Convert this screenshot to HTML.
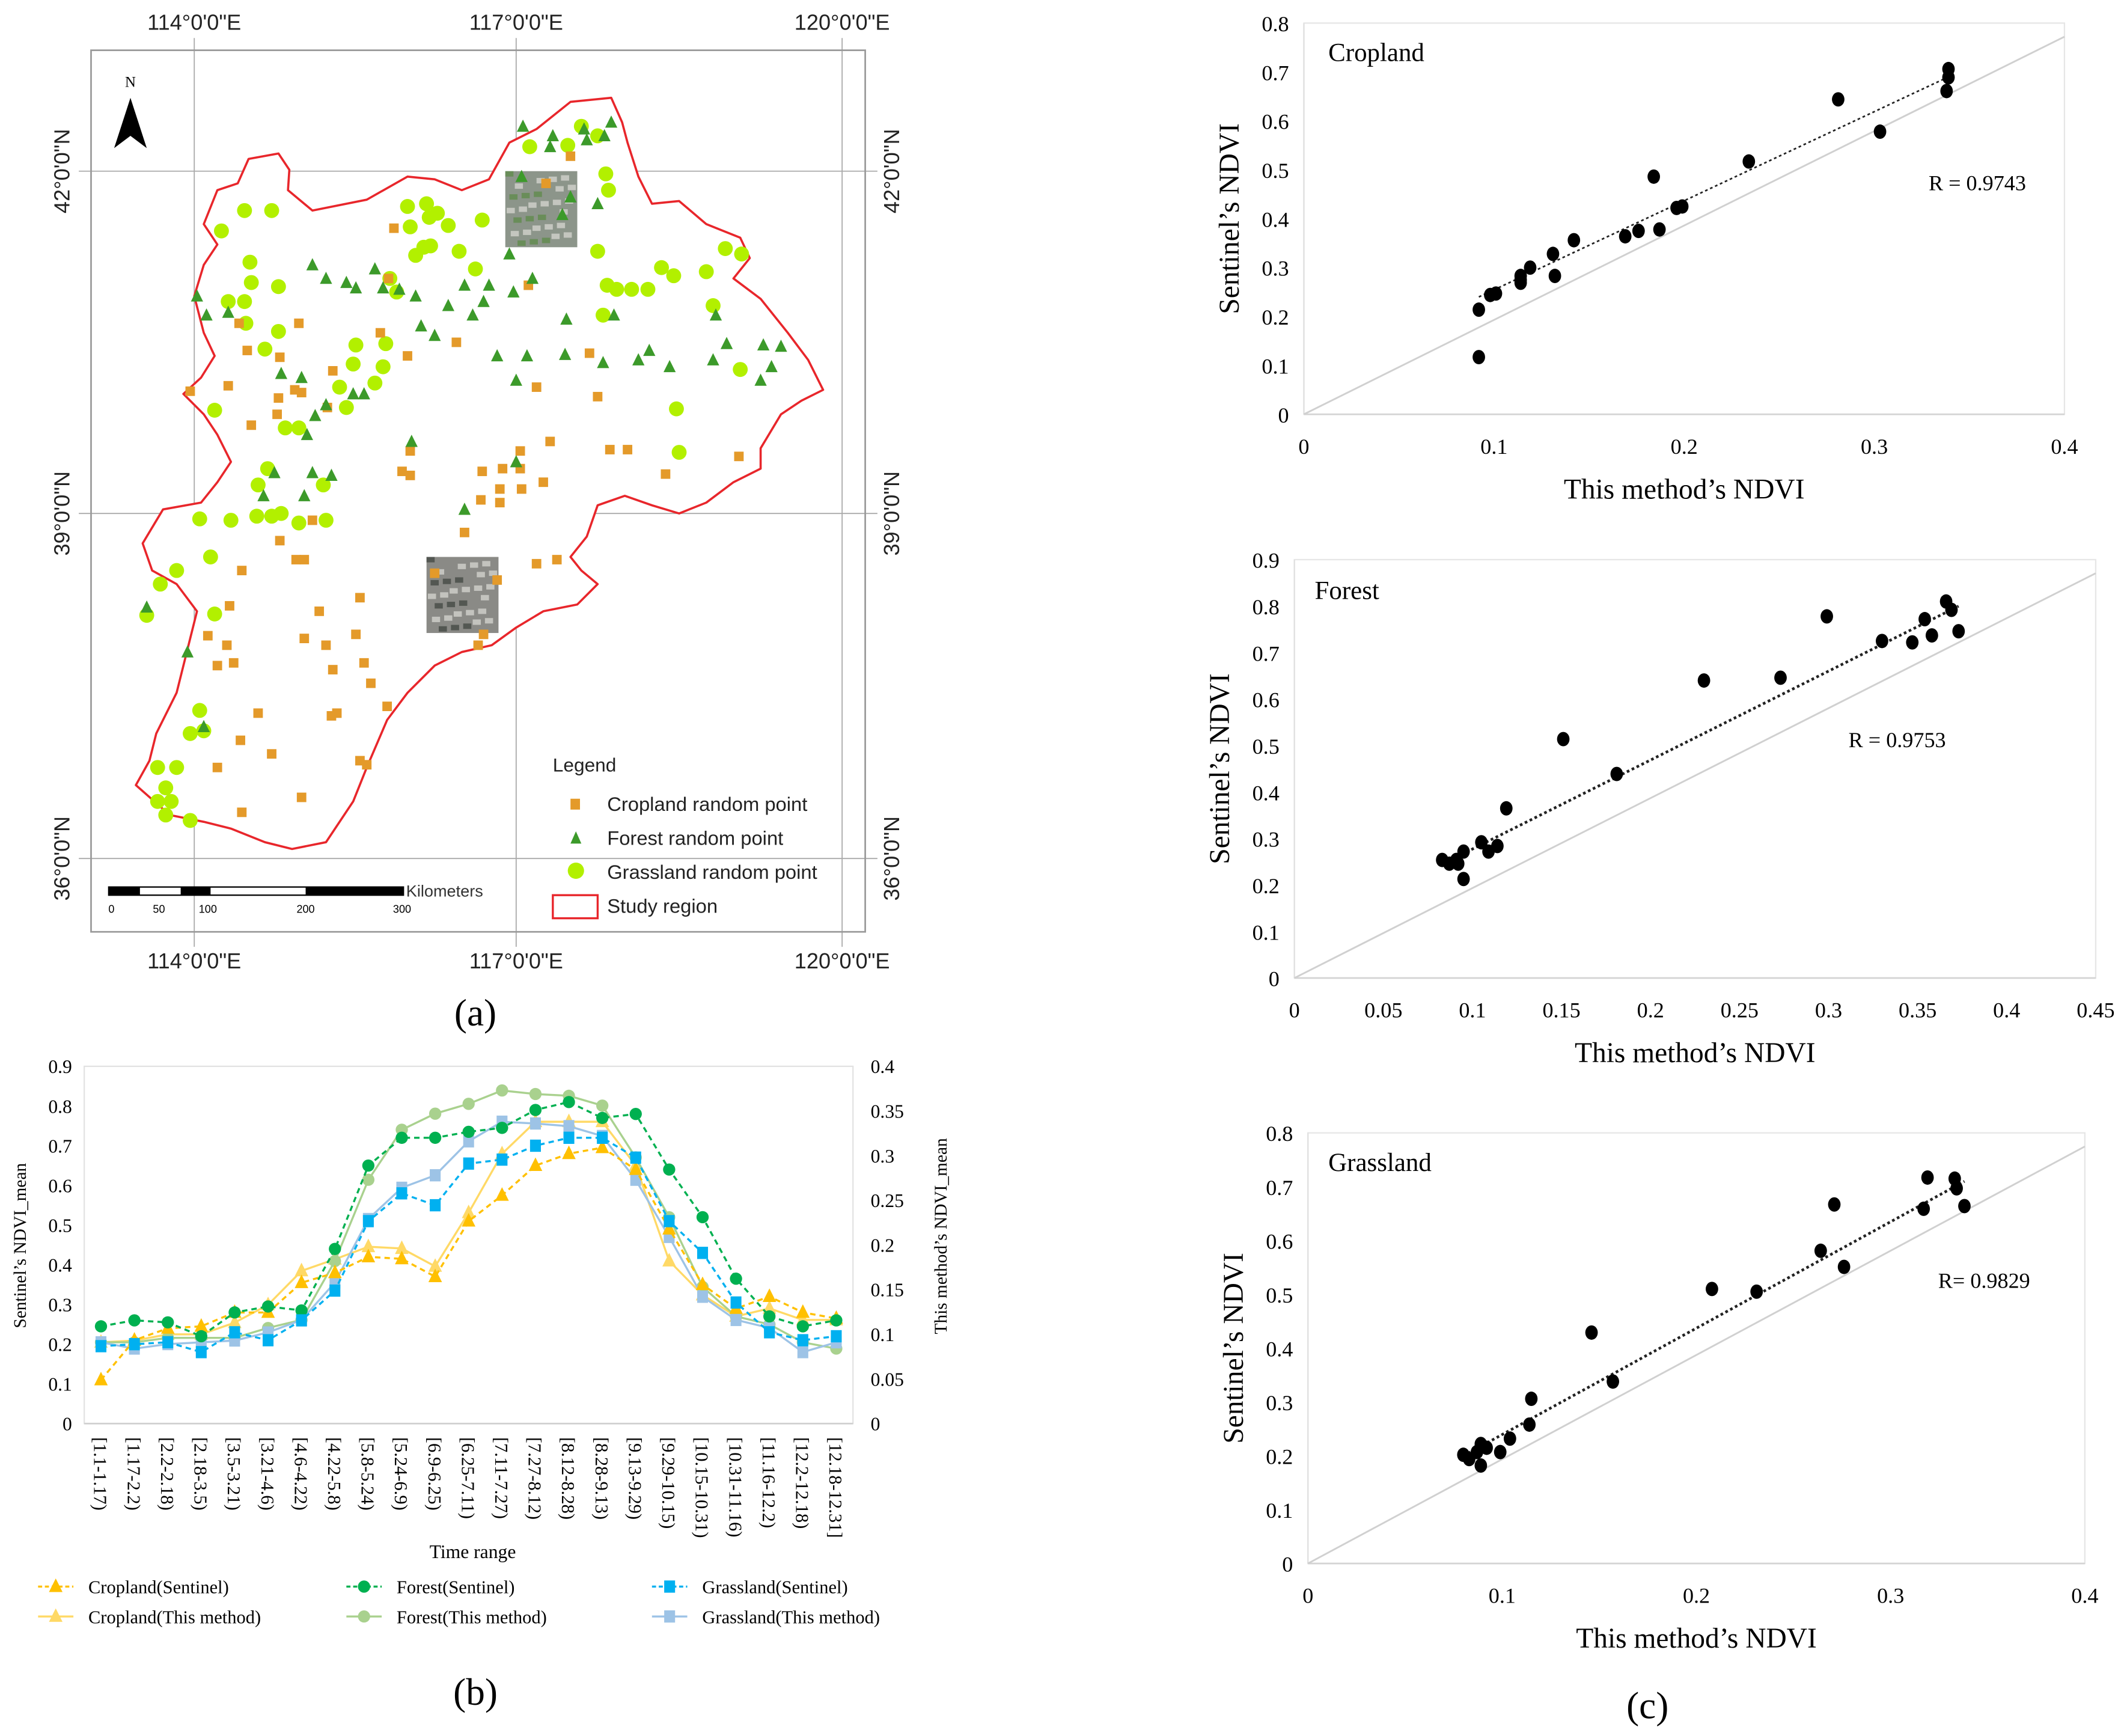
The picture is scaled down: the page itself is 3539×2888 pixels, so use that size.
<!DOCTYPE html>
<html><head><meta charset="utf-8">
<style>
html,body{margin:0;padding:0;background:#fff;}
svg{display:block;}
.serif{font-family:"Liberation Serif",serif;}
.sans{font-family:"Liberation Sans",sans-serif;}
</style></head>
<body>
<svg id="fig" width="3539" height="2888" viewBox="0 0 1566 1278" xmlns="http://www.w3.org/2000/svg">
<g id="mapG"></g>
<g id="lineG"></g>
<g id="scG"></g>
<text x="350" y="755" text-anchor="middle" class="serif" font-size="28">(a)</text>
<text x="350" y="1255" text-anchor="middle" class="serif" font-size="28">(b)</text>
<text x="1213" y="1265" text-anchor="middle" class="serif" font-size="28">(c)</text>
</svg>
<script>
// ===== Line chart data =====
const timeCategories = ["[1.1-1.17)","[1.17-2.2)","[2.2-2.18)","[2.18-3.5)","[3.5-3.21)","[3.21-4.6)","[4.6-4.22)","[4.22-5.8)","[5.8-5.24)","[5.24-6.9)","[6.9-6.25)","[6.25-7.11)","[7.11-7.27)","[7.27-8.12)","[8.12-8.28)","[8.28-9.13)","[9.13-9.29)","[9.29-10.15)","[10.15-10.31)","[10.31-11.16)","[11.16-12.2)","[12.2-12.18)","[12.18-12.31]"];
const croplandSentinel = [0.11,0.21,0.24,0.245,0.28,0.28,0.355,0.38,0.42,0.415,0.37,0.51,0.575,0.65,0.68,0.695,0.64,0.49,0.35,0.29,0.32,0.28,0.265];
const forestSentinel = [0.245,0.26,0.255,0.22,0.28,0.295,0.285,0.44,0.65,0.72,0.72,0.735,0.745,0.79,0.81,0.77,0.78,0.64,0.52,0.365,0.27,0.245,0.26];
const grasslandSentinel = [0.195,0.2,0.205,0.18,0.23,0.21,0.26,0.335,0.51,0.58,0.55,0.655,0.665,0.7,0.72,0.72,0.67,0.51,0.43,0.305,0.23,0.21,0.22];
const croplandThis = [0.091,0.093,0.1,0.1,0.113,0.133,0.171,0.184,0.198,0.196,0.176,0.236,0.302,0.338,0.338,0.338,0.289,0.182,0.144,0.12,0.129,0.116,0.116];
const forestThis = [0.091,0.091,0.096,0.096,0.096,0.107,0.116,0.182,0.273,0.329,0.347,0.358,0.373,0.369,0.367,0.356,0.298,0.231,0.153,0.12,0.111,0.091,0.084];
const grasslandThis = [0.091,0.084,0.089,0.091,0.093,0.102,0.116,0.158,0.229,0.264,0.278,0.316,0.338,0.336,0.333,0.322,0.273,0.209,0.142,0.116,0.107,0.08,0.091];
const leftTicks = [0,0.1,0.2,0.3,0.4,0.5,0.6,0.7,0.8,0.9];
const rightTicks = [0,0.05,0.1,0.15,0.2,0.25,0.3,0.35,0.4];

// ===== Scatter data =====
const cropX = [0.092,0.092,0.098,0.101,0.114,0.114,0.114,0.119,0.131,0.132,0.142,0.169,0.176,0.187,0.184,0.196,0.199,0.234,0.281,0.303,0.339,0.339,0.338];
const cropY = [0.214,0.117,0.244,0.247,0.275,0.269,0.283,0.3,0.328,0.283,0.356,0.364,0.375,0.378,0.486,0.422,0.425,0.517,0.644,0.578,0.689,0.706,0.661];
const forestX = [0.083,0.087,0.091,0.095,0.095,0.092,0.105,0.109,0.114,0.119,0.151,0.181,0.23,0.273,0.299,0.33,0.347,0.354,0.358,0.366,0.369,0.373];
const forestY = [0.254,0.246,0.254,0.272,0.213,0.246,0.292,0.272,0.284,0.365,0.514,0.439,0.64,0.646,0.778,0.725,0.722,0.772,0.737,0.81,0.792,0.746];
const grassX = [0.08,0.083,0.087,0.089,0.089,0.092,0.099,0.104,0.114,0.115,0.146,0.157,0.208,0.231,0.264,0.271,0.276,0.317,0.319,0.333,0.334,0.338];
const grassY = [0.202,0.194,0.207,0.222,0.182,0.215,0.207,0.232,0.258,0.306,0.429,0.338,0.51,0.505,0.581,0.667,0.551,0.659,0.717,0.715,0.697,0.664];
const cropTicksX = [0,0.1,0.2,0.3,0.4];
const cropTicksY = [0,0.1,0.2,0.3,0.4,0.5,0.6,0.7,0.8];
const forestTicksX = [0,0.05,0.1,0.15,0.2,0.25,0.3,0.35,0.4,0.45];
const forestTicksY = [0,0.1,0.2,0.3,0.4,0.5,0.6,0.7,0.8,0.9];
const grassTicksX = [0,0.1,0.2,0.3,0.4];
const grassTicksY = [0,0.1,0.2,0.3,0.4,0.5,0.6,0.7,0.8];
const rValues = ["R = 0.9743","R = 0.9753","R= 0.9829"];

const NS="http://www.w3.org/2000/svg";
function mk(parent,tag,attrs,text){const e=document.createElementNS(NS,tag);for(const k in attrs)e.setAttribute(k,attrs[k]);if(text!==undefined)e.textContent=text;parent.appendChild(e);return e;}

// ===== Map =====
(function(){
const g=document.getElementById('mapG');
[143,380,620].forEach(x=>{const l=mk(g,'line',{x1:x,y1:28,x2:x,y2:697,stroke:'#aaa','stroke-width':0.8});

});
[126,378,632].forEach(y=>{const l=mk(g,'line',{x1:58,y1:y,x2:646,y2:y,stroke:'#aaa','stroke-width':0.8});

});
const fr=mk(g,'rect',{x:67,y:37,width:570,height:649,fill:'none',stroke:'#999','stroke-width':1.2});


const lon=["114°0'0\"E","117°0'0\"E","120°0'0\"E"];
[143,380,620].forEach((x,i)=>{
 const t1=mk(g,'text',{x:x,y:22,'text-anchor':'middle','font-size':16,class:'sans',fill:'#222'},lon[i]);
 
 
 const t2=mk(g,'text',{x:x,y:713,'text-anchor':'middle','font-size':16,class:'sans',fill:'#222'},lon[i]);
 
 
});
const lat=["42°0'0\"N","39°0'0\"N","36°0'0\"N"];
[126,378,632].forEach((y,i)=>{
 const t1=mk(g,'text',{x:0,y:0,'text-anchor':'middle','font-size':16,class:'sans',fill:'#222',transform:`translate(51,${y}) rotate(-90)`},lat[i]);
 
 
 const t2=mk(g,'text',{x:0,y:0,'text-anchor':'middle','font-size':16,class:'sans',fill:'#222',transform:`translate(662,${y}) rotate(-90)`},lat[i]);
 
 
});
const outline=[[183,117],[205,113],[213,125],[212,140],[230,155],[270,147],[300,130],[320,132],[340,140],[360,132],[375,105],[395,95],[420,75],[450,72],[458,90],[462,105],[470,130],[480,150],[500,148],[520,165],[545,175],[552,190],[540,205],[560,220],[580,245],[595,265],[606,287],[590,295],[575,305],[560,330],[560,345],[540,355],[520,370],[500,378],[480,372],[460,365],[440,372],[432,395],[420,410],[428,420],[440,430],[425,445],[400,450],[380,462],[362,475],[340,480],[320,490],[300,510],[285,530],[270,565],[260,590],[240,620],[215,625],[195,620],[170,610],[150,605],[125,600],[100,578],[110,560],[115,540],[130,510],[140,470],[145,450],[130,430],[112,420],[105,400],[120,375],[148,370],[160,355],[170,340],[160,320],[150,305],[135,290],[148,278],[158,262],[150,245],[143,218],[150,195],[160,180],[150,165],[160,140],[175,135]];
const pg=mk(g,'polygon',{points:outline.map(p=>p.join(',')).join(' '),fill:'#fff',stroke:'#e8262b','stroke-width':1.6,'stroke-linejoin':'round'});


[[372,126],[314,410]].forEach((p,i)=>{
 const r=mk(g,'rect',{x:p[0],y:p[1],width:53,height:56,fill:i?'#8a8a86':'#8c958a'});
 
 
 for(let k=0;k<30;k++){const c=mk(g,'rect',{x:p[0]+((k*17)%48),y:p[1]+((k*23)%52),width:6,height:4,fill:k%3?'#dcdcd6':(i?'#3c423c':'#5a8a45'),opacity:0.7});
 
 }
});
const cropPts=[[290,168],[286,205],[220,238],[176,238],[182,258],[206,263],[140,288],[168,284],[205,293],[222,289],[204,305],[217,287],[185,313],[241,300],[302,332],[296,347],[302,350],[355,347],[370,345],[383,332],[383,345],[384,360],[368,360],[354,368],[368,370],[400,355],[405,325],[449,331],[462,331],[490,349],[544,336],[300,262],[280,245],[389,210],[245,273],[336,252],[206,398],[224,412],[218,412],[178,420],[235,450],[240,475],[265,440],[262,467],[224,470],[169,446],[167,475],[153,468],[172,488],[160,490],[245,493],[268,488],[273,503],[285,520],[244,527],[190,525],[177,545],[160,565],[200,555],[265,560],[270,563],[222,587],[178,598],[342,392],[320,422],[366,427],[395,415],[410,412],[356,467],[352,475],[420,115],[402,135],[434,260],[440,292],[395,285],[230,383],[248,525]];
const forestPts=[[385,93],[407,100],[405,108],[430,95],[432,103],[450,90],[445,100],[384,130],[420,145],[440,150],[414,158],[375,187],[392,205],[360,210],[378,215],[356,222],[342,210],[330,225],[306,218],[294,213],[282,212],[262,212],[276,198],[255,208],[240,205],[230,195],[310,240],[320,247],[348,232],[366,262],[388,262],[380,280],[417,235],[416,261],[444,267],[452,232],[478,258],[470,265],[493,270],[527,232],[535,253],[562,254],[568,270],[575,255],[560,280],[525,265],[145,218],[152,232],[168,230],[207,275],[222,278],[226,320],[232,306],[240,298],[260,290],[268,290],[244,350],[230,348],[202,348],[194,365],[224,365],[108,447],[138,480],[150,535],[342,375],[380,340],[303,325]];
const grassPts=[[163,170],[180,155],[200,155],[184,193],[205,211],[185,208],[180,222],[168,222],[181,238],[205,244],[195,257],[158,302],[210,315],[220,315],[197,345],[190,357],[189,380],[200,380],[207,378],[220,385],[240,383],[238,357],[255,300],[250,285],[260,268],[262,254],[284,253],[282,270],[276,282],[287,205],[292,215],[306,188],[312,182],[316,160],[314,150],[322,157],[302,167],[317,181],[330,166],[355,162],[338,185],[300,152],[350,198],[390,108],[418,107],[440,100],[428,93],[446,128],[448,140],[440,185],[447,210],[444,232],[454,213],[465,213],[477,213],[487,197],[496,203],[520,200],[534,183],[546,187],[525,225],[545,272],[498,301],[500,333],[108,453],[118,430],[130,420],[155,410],[147,382],[170,383],[158,452],[150,538],[147,523],[140,540],[122,580],[116,590],[126,590],[116,565],[130,565],[122,600],[140,604]];
grassPts.forEach(p=>{const c=mk(g,'circle',{cx:p[0],cy:p[1],r:5.5,fill:'#b2f000'});
 
 });
cropPts.forEach(p=>{const c=mk(g,'rect',{x:p[0]-3.5,y:p[1]-3.5,width:7,height:7,fill:'#e49a2a'});
 
 });
forestPts.forEach(p=>{const c=mk(g,'polygon',{points:`${p[0]},${p[1]-5} ${p[0]-4.5},${p[1]+4} ${p[0]+4.5},${p[1]+4}`,fill:'#3c9a2a'});
 
 });
const nt=mk(g,'text',{x:96,y:64,'text-anchor':'middle','font-size':11,class:'serif'},'N');


const na=mk(g,'polygon',{points:'96,72 84,109 96,100 108,109',fill:'#000'});


const sb=mk(g,'g',{});


mk(sb,'rect',{x:80,y:653,width:217,height:6,fill:'#fff',stroke:'#000','stroke-width':1});
[[80,103],[133,155],[225,297]].forEach(s=>mk(sb,'rect',{x:s[0],y:653,width:s[1]-s[0],height:6,fill:'#000'}));
[['0',82],['50',117],['100',153],['200',225],['300',296]].forEach(s=>mk(sb,'text',{x:s[1],y:672,'text-anchor':'middle','font-size':8,class:'sans'},s[0]));
mk(sb,'text',{x:299,y:660,'font-size':12,class:'sans',fill:'#333'},'Kilometers');
const lg=mk(g,'g',{});


mk(lg,'text',{x:407,y:568,'font-size':14,class:'sans',fill:'#222'},'Legend');
mk(lg,'rect',{x:420,y:588,width:7,height:8,fill:'#e49a2a'});
mk(lg,'text',{x:447,y:597,'font-size':14.5,class:'sans',fill:'#222'},'Cropland random point');
mk(lg,'polygon',{points:'424,612 420,621 428,621',fill:'#3c9a2a'});
mk(lg,'text',{x:447,y:622,'font-size':14.5,class:'sans',fill:'#222'},'Forest random point');
mk(lg,'circle',{cx:424,cy:641,r:6,fill:'#b2f000'});
mk(lg,'text',{x:447,y:647,'font-size':14.5,class:'sans',fill:'#222'},'Grassland random point');
mk(lg,'rect',{x:407,y:659,width:33,height:17,fill:'#fff',stroke:'#e8262b','stroke-width':1.5});
mk(lg,'text',{x:447,y:672,'font-size':14.5,class:'sans',fill:'#222'},'Study region');
})();

// ===== Line chart =====
(function(){
const g=document.getElementById('lineG');
const L=62,R=628,T=785,B=1048;
const n=timeCategories.length, step=(R-L)/n;
const xp=i=>L+step*(i+0.5);
const yl=v=>B-(v/0.9)*(B-T);
const yr=v=>B-(v/0.4)*(B-T);
const box=mk(g,'rect',{x:L,y:T,width:R-L,height:B-T,fill:'none',stroke:'#e2e2e2','stroke-width':1});


mk(g,'line',{x1:L,y1:B,x2:R,y2:B,stroke:'#d0d0d0','stroke-width':1.2});
leftTicks.forEach(v=>{const t=mk(g,'text',{x:L-9,y:yl(v)+5,'text-anchor':'end','font-size':14,class:'serif'},String(v));
 
 });
rightTicks.forEach(v=>{const t=mk(g,'text',{x:R+13,y:yr(v)+5,'font-size':14,class:'serif'},String(v));
 
 });
timeCategories.forEach((c,i)=>{const t=mk(g,'text',{x:0,y:0,'font-size':13.5,class:'serif',transform:`translate(${xp(i)-5},1058) rotate(90)`},c);
 
 });
const yt=mk(g,'text',{x:0,y:0,'text-anchor':'middle','font-size':13,class:'serif',transform:'translate(19,917) rotate(-90)'},"Sentinel’s NDVI_mean");


const yt2=mk(g,'text',{x:0,y:0,'text-anchor':'middle','font-size':13,class:'serif',transform:'translate(697,910) rotate(-90)'},"This method’s NDVI_mean");


const xt=mk(g,'text',{x:348,y:1147,'text-anchor':'middle','font-size':14,class:'serif'},'Time range');


function marker(parent,shape,x,y,col){
 if(shape==='tri') return mk(parent,'polygon',{points:`${x},${y-6} ${x-5},${y+4} ${x+5},${y+4}`,fill:col});
 if(shape==='circ') return mk(parent,'circle',{cx:x,cy:y,r:4.5,fill:col});
 return mk(parent,'rect',{x:x-4,y:y-4.5,width:8,height:9,fill:col});
}
const series=[
 {name:'cropland-this',vals:croplandThis,ax:yr,col:'#FFD966',dash:null,shape:'tri'},
 {name:'forest-this',vals:forestThis,ax:yr,col:'#A9D18E',dash:null,shape:'circ'},
 {name:'grassland-this',vals:grasslandThis,ax:yr,col:'#9DC3E6',dash:null,shape:'sq'},
 {name:'cropland-sentinel',vals:croplandSentinel,ax:yl,col:'#FFC000',dash:'4,3',shape:'tri'},
 {name:'forest-sentinel',vals:forestSentinel,ax:yl,col:'#00B050',dash:'4,3',shape:'circ'},
 {name:'grassland-sentinel',vals:grasslandSentinel,ax:yl,col:'#00B0F0',dash:'4,3',shape:'sq'}
];
series.forEach(s=>{
 const sg=mk(g,'g',{});
 
 
 const pts=s.vals.map((v,i)=>xp(i).toFixed(1)+','+s.ax(v).toFixed(1)).join(' ');
 const a={points:pts,fill:'none',stroke:s.col,'stroke-width':1.5};
 if(s.dash)a['stroke-dasharray']=s.dash;
 const pl=mk(sg,'polyline',a);
 
 
 s.vals.forEach((v,i)=>{const m=marker(sg,s.shape,xp(i),s.ax(v),s.col);
  
  });
});
const lg=mk(g,'g',{});


const leg=[
 ['Cropland(Sentinel)',28,1168,'#FFC000',true,'tri'],['Forest(Sentinel)',255,1168,'#00B050',true,'circ'],['Grassland(Sentinel)',480,1168,'#00B0F0',true,'sq'],
 ['Cropland(This method)',28,1190,'#FFD966',false,'tri'],['Forest(This method)',255,1190,'#A9D18E',false,'circ'],['Grassland(This method)',480,1190,'#9DC3E6',false,'sq']];
leg.forEach(e=>{
 const a={x1:e[1],y1:e[2],x2:e[1]+26,y2:e[2],stroke:e[3],'stroke-width':1.5};
 if(e[4])a['stroke-dasharray']='3,2';
 mk(lg,'line',a);
 marker(lg,e[5],e[1]+13,e[2],e[3]);
 mk(lg,'text',{x:e[1]+37,y:e[2]+5,'font-size':13.5,class:'serif'},e[0]);
});
})();

// ===== Scatter panels =====
(function(){
const root=document.getElementById('scG');
const panels=[
 {name:'cropland',title:'Cropland',xs:cropX,ys:cropY,tx:cropTicksX,ty:cropTicksY,xmax:0.4,ymax:0.8,L:960,R:1520,T:17,B:305,r:rValues[0],rx:1420,ry:140,trend:[0.092,0.24,0.339,0.69],lbl:[978,45]},
 {name:'forest',title:'Forest',xs:forestX,ys:forestY,tx:forestTicksX,ty:forestTicksY,xmax:0.45,ymax:0.9,L:953,R:1543,T:412,B:720,r:rValues[1],rx:1361,ry:550,trend:[0.083,0.245,0.373,0.8],lbl:[968,441]},
 {name:'grassland',title:'Grassland',xs:grassX,ys:grassY,tx:grassTicksX,ty:grassTicksY,xmax:0.4,ymax:0.8,L:963,R:1535,T:834,B:1151,r:rValues[2],rx:1427,ry:948,trend:[0.08,0.2,0.338,0.71],lbl:[978,862]}
];
panels.forEach(p=>{
 const g=mk(root,'g',{});
 
 
 const X=v=>p.L+v/p.xmax*(p.R-p.L), Y=v=>p.B-v/p.ymax*(p.B-p.T);
 const bx=mk(g,'rect',{x:p.L,y:p.T,width:p.R-p.L,height:p.B-p.T,fill:'none',stroke:'#e6e6e6','stroke-width':1});
 
 
 mk(g,'line',{x1:p.L,y1:p.B,x2:p.R,y2:p.B,stroke:'#d4d4d4','stroke-width':1.2});
 mk(g,'line',{x1:p.L,y1:p.B,x2:p.L,y2:p.T,stroke:'#e0e0e0','stroke-width':1});
 const d=mk(g,'line',{x1:p.L,y1:p.B,x2:p.R,y2:p.T+10,stroke:'#d0d0d0','stroke-width':1.3});
 
 
 p.tx.forEach(v=>{const t=mk(g,'text',{x:X(v),y:p.B+29,'text-anchor':'middle','font-size':16,class:'serif'},String(v));
  
  });
 p.ty.forEach(v=>{const t=mk(g,'text',{x:p.L-11,y:Y(v)+6,'text-anchor':'end','font-size':16,class:'serif'},String(v));
  
  });
 const tl=mk(g,'line',{x1:X(p.trend[0]),y1:Y(p.trend[1]),x2:X(p.trend[2]),y2:Y(p.trend[3]),stroke:'#222','stroke-width':p.name==='cropland'?1.2:2,'stroke-dasharray':'2,2'});
 
 
 p.xs.forEach((v,i)=>{const c=mk(g,'ellipse',{cx:X(v),cy:Y(p.ys[i]),rx:4.6,ry:5.3,fill:'#000'});
  
  });
 const t=mk(g,'text',{x:p.lbl[0],y:p.lbl[1],'font-size':19,class:'serif'},p.title);
 
 
 const rt=mk(g,'text',{x:p.rx,y:p.ry,'font-size':16,class:'serif'},p.r);
 
 
 const xt=mk(g,'text',{x:(p.L+p.R)/2,y:p.B+62,'text-anchor':'middle','font-size':21,class:'serif'},"This method’s NDVI");
 
 
 const yt=mk(g,'text',{x:0,y:0,'text-anchor':'middle','font-size':21,class:'serif',transform:`translate(${p.L-48},${(p.T+p.B)/2}) rotate(-90)`},"Sentinel’s  NDVI");
 
 
});
})();
</script>
</body></html>
